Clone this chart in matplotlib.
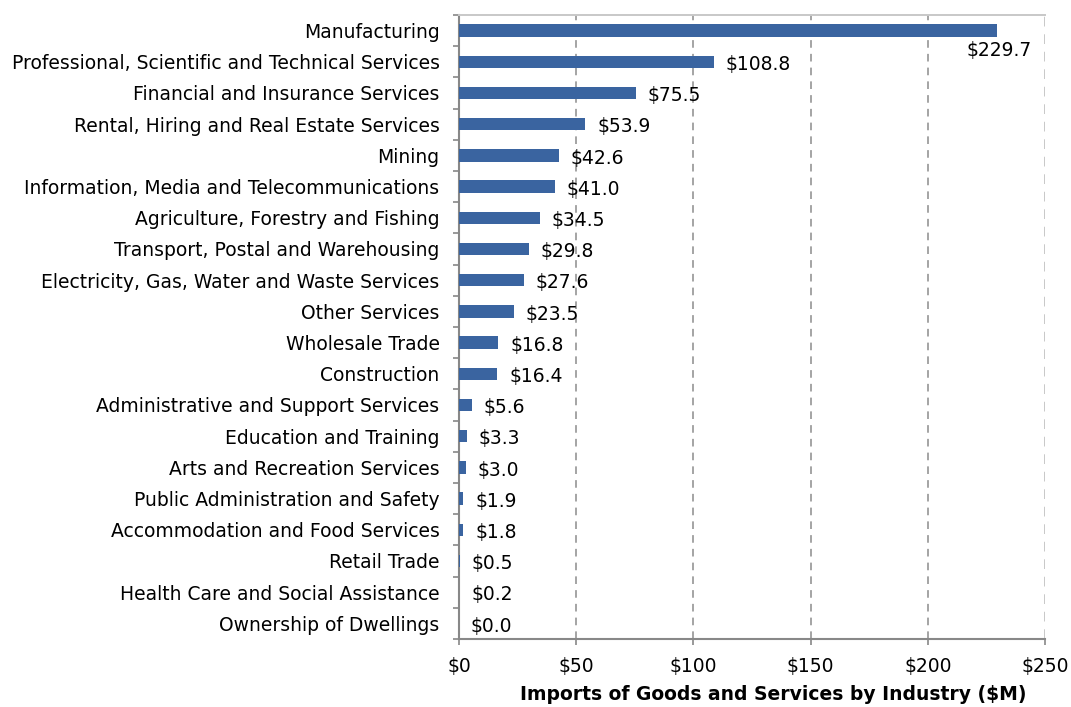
import matplotlib.pyplot as plt

industries = [
    "Manufacturing",
    "Professional, Scientific and Technical Services",
    "Financial and Insurance Services",
    "Rental, Hiring and Real Estate Services",
    "Mining",
    "Information, Media and Telecommunications",
    "Agriculture, Forestry and Fishing",
    "Transport, Postal and Warehousing",
    "Electricity, Gas, Water and Waste Services",
    "Other Services",
    "Wholesale Trade",
    "Construction",
    "Administrative and Support Services",
    "Education and Training",
    "Arts and Recreation Services",
    "Public Administration and Safety",
    "Accommodation and Food Services",
    "Retail Trade",
    "Health Care and Social Assistance",
    "Ownership of Dwellings",
]
imports_m = [229.7, 108.8, 75.5, 53.9, 42.6, 41.0, 34.5, 29.8, 27.6, 23.5,
             16.8, 16.4, 5.6, 3.3, 3.0, 1.9, 1.8, 0.5, 0.2, 0.0]
x_ticks = [0, 50, 100, 150, 200, 250]

plt.rcParams['font.family'] = ['DejaVu Sans']
fs = 13.5

fig = plt.figure(figsize=(10.71, 7.07), dpi=100)
ax = fig.add_axes([459 / 1071, 68 / 707, 586 / 1071, 624 / 707])

ypos = list(range(len(industries)))
ax.barh(ypos, imports_m, height=0.4, color='#3A64A0', zorder=3)

ax.set_ylim(len(industries) - 0.5, -0.5)
ax.set_xlim(0, 250)
ax.set_yticks(ypos)
ax.set_yticklabels(industries, fontsize=fs)
ax.set_xticks(x_ticks)
ax.set_xticklabels(['$' + str(t) for t in x_ticks], fontsize=fs)

# boundaries between categories get the tick marks, labels sit in between
ax.set_yticks([i - 0.5 for i in range(len(industries) + 1)], minor=True)
ax.tick_params(axis='y', which='major', length=0, pad=14)
ax.tick_params(axis='y', which='minor', length=4, color='#888888', width=1.2)
ax.tick_params(axis='x', length=4, color='#888888', width=1.2, pad=9)

for x in x_ticks[1:-1]:
    ax.axvline(x, color='#8c8c8c', linestyle=(0, (5, 4)), linewidth=1.1, zorder=1)
ax.axvline(250, color='#c8c8c8', linestyle=(0, (5, 4)), linewidth=1.4, zorder=1)

for side in ['left', 'bottom']:
    ax.spines[side].set_color('#888888')
    ax.spines[side].set_linewidth(1.5)
ax.spines['top'].set_color('#c8c8c8')
ax.spines['top'].set_linewidth(1.4)
ax.spines['right'].set_visible(False)

for i, v in enumerate(imports_m):
    txt = '$%.1f' % v
    if i == 0:
        ax.annotate(txt, (v, i), xytext=(24.5, -14.5), textcoords='offset points',
                    ha='right', va='center', fontsize=fs)
    else:
        ax.annotate(txt, (v, i), xytext=(8.5, -2), textcoords='offset points',
                    ha='left', va='center', fontsize=fs)

ax.set_xlabel('Imports of Goods and Services by Industry ($M)', fontsize=13.5,
              fontweight='bold')
ax.xaxis.set_label_coords((773 - 459) / 586, -0.073)

fig.savefig('out.png', dpi=100)
